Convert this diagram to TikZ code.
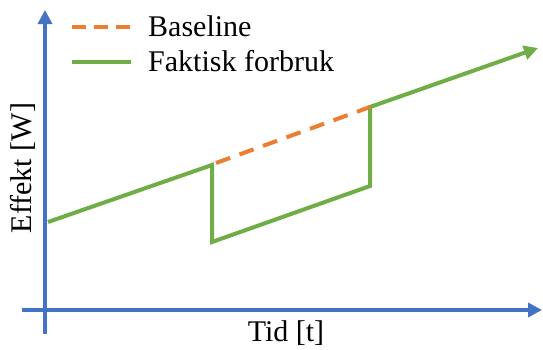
\documentclass[tikz,border=0pt]{standalone}
\usepackage{fontspec}
\setmainfont{Liberation Serif}
\usetikzlibrary{arrows.meta}
\definecolor{axisblue}{HTML}{4472C4}
\definecolor{baseorange}{HTML}{ED7D31}
\definecolor{usegreen}{HTML}{70AD47}
\begin{document}
\begin{tikzpicture}[x=1pt,y=-1pt,
  tip/.style={-{Triangle[length=14pt,width=14pt]}},
  axisline/.style={axisblue,line width=4pt,tip},
  actual/.style={usegreen,line width=4pt,line join=miter},
  baseline/.style={baseorange,line width=4pt,dash pattern=on 15pt off 10pt},
  lbl/.style={font=\fontsize{30}{32}\selectfont,inner sep=0pt}]
\useasboundingbox (0,0) rectangle (543,349);
% axes
\coordinate (yb) at (45,334);
\coordinate (yt) at (45,10);
\coordinate (xl) at (22,310);
\coordinate (xr) at (542,310);
\draw[axisline] (yb) -- (yt);
\draw[axisline] (xl) -- (xr);
% consumption curve
\coordinate (p0) at (48,222);
\coordinate (p1) at (212,165);
\coordinate (p2) at (212,242);
\coordinate (p3) at (370,186);
\coordinate (p4) at (370,107);
\coordinate (p5) at (538,48);
\draw[actual,tip] (p0) -- (p1) -- (p2) -- (p3) -- (p4) -- (p5);
% baseline segment
\coordinate (b0) at (216,163);
\draw[baseline] (b0) -- (p4);
% legend
\coordinate (l1a) at (72,27);
\coordinate (l1b) at (131,27);
\coordinate (l2a) at (72,62);
\coordinate (l2b) at (131,62);
\draw[baseorange,line width=4pt,dash pattern=on 14pt off 8pt] (l1a) -- (l1b);
\draw[actual] (l2a) -- (l2b);
\node[lbl,anchor=base west] (t1) at (148,36) {Baseline};
\node[lbl,anchor=base west] (t2) at (148,71) {Faktisk forbruk};
% axis labels
\node[lbl,anchor=base] (tx) at (286,341) {Tid [t]};
\node[lbl,anchor=base,rotate=90] (ty) at (31,168) {Effekt [W]};
\end{tikzpicture}
\end{document}
